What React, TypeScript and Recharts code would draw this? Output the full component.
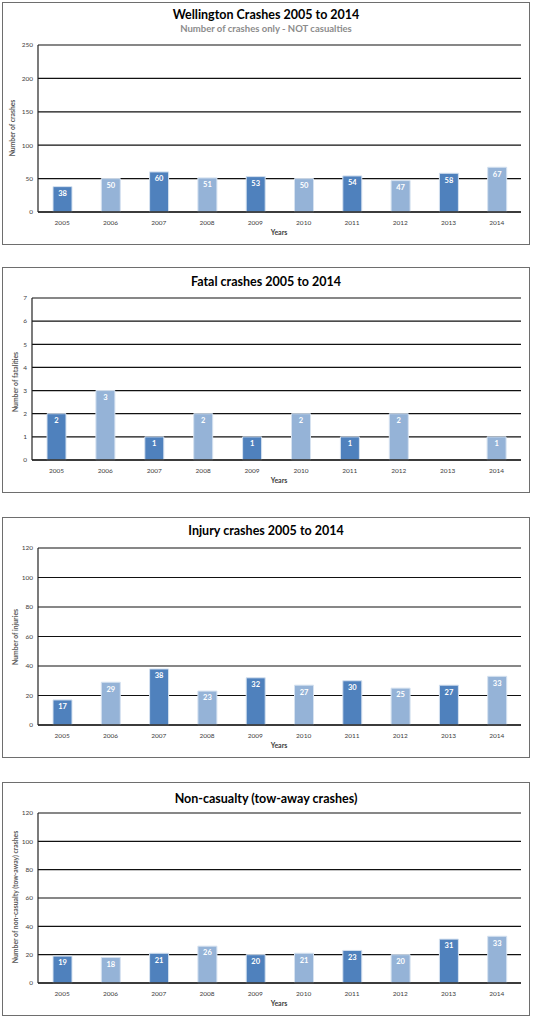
import React from 'react';
import { BarChart, Bar, XAxis, YAxis, CartesianGrid, Cell, LabelList } from 'recharts';

const years = ['2005', '2006', '2007', '2008', '2009', '2010', '2011', '2012', '2013', '2014'];
const allCrashes = [38, 50, 60, 51, 53, 50, 54, 47, 58, 67];
const fatalCrashes = [2, 3, 1, 2, 1, 2, 1, 2, null, 1];
const injuryCrashes = [17, 29, 38, 23, 32, 27, 30, 25, 27, 33];
const towAwayCrashes = [19, 18, 21, 26, 20, 21, 23, 20, 31, 33];

const ticksAll = [0, 50, 100, 150, 200, 250];
const ticksFatal = [0, 1, 2, 3, 4, 5, 6, 7];
const ticks120 = [0, 20, 40, 60, 80, 100, 120];

const DARK = '#4F81BD';
const LIGHT = '#95B3D7';
const FONT = 'Lato, "Open Sans", sans-serif';

interface PanelProps {
  title: string;
  subtitle?: string;
  values: (number | null)[];
  ticks: number[];
  yLabel: string;
  boxTop: number;
  boxBottom: number;
  plotTop: number;
  plotBottom: number;
  plotLeft: number;
  titleY: number;
  subtitleY?: number;
  yLabelX: number;
  yLabelY: number;
}

function Panel(p: PanelProps) {
  const data = years.map((year, i) => ({ year, value: p.values[i] }));
  const h = p.boxBottom - p.boxTop;
  const xAxisH = 26;
  return (
    <>
      <div
        style={{
          position: 'absolute',
          left: 2,
          top: p.boxTop,
          width: 528,
          height: h,
          boxSizing: 'border-box',
          border: '1px solid #6e6e6e',
          background: '#fff',
        }}
      />
      <div style={{ position: 'absolute', left: 0, top: p.boxTop }}>
        <BarChart
          width={534}
          height={h}
          data={data}
          margin={{ top: p.plotTop - p.boxTop, right: 13, bottom: p.boxBottom - p.plotBottom - xAxisH, left: p.plotLeft - 20 }}
          barSize={19}
        >
          <CartesianGrid horizontal vertical={false} stroke="#111" strokeWidth={1.2} />
          <XAxis
            dataKey="year"
            height={xAxisH}
            tickLine={false}
            tickSize={4}
            tickMargin={4}
            axisLine={{ stroke: '#222', strokeWidth: 1.5 }}
            tick={{ fontSize: 6.5, fill: '#404040', fontFamily: FONT }}
            interval={0}
          />
          <YAxis
            width={20}
            domain={[0, p.ticks[p.ticks.length - 1]]}
            ticks={p.ticks}
            tickLine={false}
            tickSize={3}
            tickMargin={2}
            axisLine={{ stroke: '#222', strokeWidth: 1.2 }}
            tick={{ fontSize: 6.5, fill: '#404040', fontFamily: FONT }}
          />
          <Bar dataKey="value" isAnimationActive={false} stroke="#d6e2f0" strokeWidth={1}>
            {data.map((d, i) => (
              <Cell key={d.year} fill={i % 2 === 0 ? DARK : LIGHT} />
            ))}
            <LabelList
              dataKey="value"
              position="insideTop"
              offset={4}
              style={{ fill: '#fff', fontSize: 7.5, fontWeight: 700, fontFamily: FONT }}
            />
          </Bar>
        </BarChart>
      </div>
      <div
        style={{
          position: 'absolute',
          left: 2,
          width: 528,
          top: p.titleY - 8,
          height: 16,
          lineHeight: '16px',
          textAlign: 'center',
          fontFamily: FONT,
          fontWeight: 700,
          fontSize: 12.5,
          color: '#000',
        }}
      >
        {p.title}
      </div>
      {p.subtitle && (
        <div
          style={{
            position: 'absolute',
            left: 2,
            width: 528,
            top: (p.subtitleY || 0) - 6,
            height: 12,
            lineHeight: '12px',
            textAlign: 'center',
            fontFamily: FONT,
            fontWeight: 700,
            fontSize: 9.5,
            color: '#8c8c8c',
          }}
        >
          {p.subtitle}
        </div>
      )}
      <div
        style={{
          position: 'absolute',
          left: p.yLabelX,
          top: p.yLabelY,
          transform: 'translate(-50%, -50%) rotate(-90deg)',
          whiteSpace: 'nowrap',
          fontFamily: FONT,
          fontWeight: 700,
          fontSize: 6.8,
          color: '#595959',
        }}
      >
        {p.yLabel}
      </div>
      <div
        style={{
          position: 'absolute',
          left: 279,
          top: p.plotBottom + 20,
          transform: 'translate(-50%, -50%)',
          whiteSpace: 'nowrap',
          fontFamily: FONT,
          fontWeight: 700,
          fontSize: 7,
          color: '#404040',
        }}
      >
        Years
      </div>
    </>
  );
}

export default function App() {
  return (
    <div style={{ position: 'absolute', left: 0, top: 0, width: 534, height: 1018, background: '#fff' }}>
      <Panel
        title="Wellington Crashes 2005 to 2014"
        subtitle="Number of crashes only - NOT casualties"
        values={allCrashes}
        ticks={ticksAll}
        yLabel="Number of crashes"
        boxTop={2}
        boxBottom={245}
        plotTop={45}
        plotBottom={212}
        plotLeft={38}
        titleY={15}
        subtitleY={29}
        yLabelX={12}
        yLabelY={128}
      />
      <Panel
        title="Fatal crashes 2005 to 2014"
        values={fatalCrashes}
        ticks={ticksFatal}
        yLabel="Number of fatalities"
        boxTop={267}
        boxBottom={493}
        plotTop={298}
        plotBottom={460}
        plotLeft={32}
        titleY={282}
        yLabelX={15}
        yLabelY={382}
      />
      <Panel
        title="Injury crashes 2005 to 2014"
        values={injuryCrashes}
        ticks={ticks120}
        yLabel="Number of injuries"
        boxTop={517}
        boxBottom={758}
        plotTop={548}
        plotBottom={725}
        plotLeft={38}
        titleY={531}
        yLabelX={15}
        yLabelY={637}
      />
      <Panel
        title="Non-casualty (tow-away crashes)"
        values={towAwayCrashes}
        ticks={ticks120}
        yLabel="Number of non-casualty (tow-away) crashes"
        boxTop={782}
        boxBottom={1016}
        plotTop={813}
        plotBottom={983}
        plotLeft={38}
        titleY={799}
        yLabelX={15}
        yLabelY={897}
      />
    </div>
  );
}
